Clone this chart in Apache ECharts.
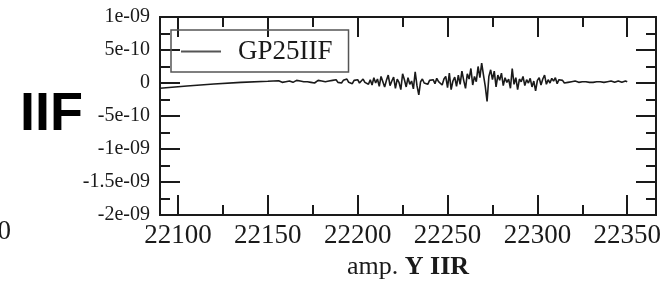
<!DOCTYPE html>
<html>
<head>
<meta charset="utf-8">
<script src="https://cdn.jsdelivr.net/npm/echarts@6/dist/echarts.min.js"></script>
<style>
  html, body { margin: 0; padding: 0; background: #fff; }
  #chart { width: 672px; height: 285px; }
</style>
</head>
<body>
<div id="chart"></div>
<script>
// values are in units of 1e-11
const rampX = [22090, 22105, 22120, 22135, 22150, 22156];
const rampY = [-8, -4.5, -1.5, 1, 2.7, 3.5];

// noisy part, one value per x step starting at noiseStartX
const noiseStartX = 22157;
const noiseY = [
  3, 1, 4, 2, 0, 3, 4, 1, 2, 4,
  1, 3, 0, 2, 4, 2, 5, 1, 3, 0,
  2, 4, 1, 3, 5, 2, 0, 3, 1, 4,
  2, 5, 1, 3, 0, 4, 2, 6, 1, 3,
  -1, 4, 2, 5, 0, 3, 6, 1, 4, -2,
  5, -3, 8, 0, 6, -5, 10, 2, -6, 4,
  12, -4, 3, 9, -8, 6, 1, -10, 14, 5,
  -6, 8, -2, 3, -9, 17,
  -4, -18, 2,
  6, 0, 3, -2, 4, 1, 5, -1, 7, 2,
  4, -3, 6, 10, -7, 15, -10, 3, 9, -5,
  12, -2, 18, 4, -8, 14, 6, 22, -3, 10,
  2, 25, 8, 30, 12, -5, -28, 10, 20, 5,
  18, -6, 12, 4, 15, -4, 8, 1, 6, -8,
  22, -2, 8, -10, 6, 2, 10, -4, 5, 0,
  7, -6, 3, -12, 4, 8, -3, 6, 12, -2,
  5, 0, 7, 3, 8, -1, 5, 2, 4, 0,
  3, 1, 4, 2, 0, 3, 2, 1, 3, 2,
  1, 2, 3, 1, 2, 1, 3, 2, 1, 2,
  3, 1, 2, 2, 1, 3, 2, 1, 2, 3,
  2, 1, 2, 3, 2
];

const xMajorTicks = [22100, 22150, 22200, 22250, 22300, 22350];
const xMinorTicks = [22125, 22175, 22225, 22275, 22325];
const yTickValues = [100, 50, 0, -50, -100, -150, -200];
const yTickLabels = ['1e-09', '5e-10', '0', '-5e-10', '-1e-09', '-1.5e-09', '-2e-09'];

const seriesData = rampX.map((x, i) => [x, rampY[i]]);
noiseY.forEach((v, i) => seriesData.push([noiseStartX + i, v]));

const chart = echarts.init(document.getElementById('chart'), null, { renderer: 'canvas' });

const serif = 'Liberation Serif';
const ink = '#1a1a1a';
const plotBox = { left: 160, top: 17, width: 496, height: 198, containLabel: false };

// grid 0 holds the major ticks + labels, grid 1 (same box) only the minor ticks
function xAxisDef(grid, pos, ticks, len, withLabels) {
  return {
    type: 'value',
    gridIndex: grid,
    position: pos,
    min: 22090,
    max: 22366,
    axisLine: { show: true, onZero: false, lineStyle: { color: ink, width: 2 } },
    axisTick: { show: true, inside: true, length: len, customValues: ticks, lineStyle: { color: ink, width: 2 } },
    axisLabel: {
      show: withLabels,
      customValues: ticks,
      color: ink,
      fontFamily: serif,
      fontSize: 27,
      margin: 7,
      formatter: v => String(v)
    },
    splitLine: { show: false }
  };
}

const bottomAxis = xAxisDef(0, 'bottom', xMajorTicks, 20, true);
bottomAxis.name = '{a|amp. }{b|Y IIR}';
bottomAxis.nameLocation = 'middle';
bottomAxis.nameGap = 36;
bottomAxis.nameTextStyle = {
  rich: {
    a: { fontFamily: serif, fontSize: 26, color: ink },
    b: { fontFamily: serif, fontSize: 26, fontWeight: 'bold', color: ink }
  }
};

function yAxisDef(grid, pos, withLabels, visible) {
  return {
    type: 'value',
    gridIndex: grid,
    position: pos,
    show: visible,
    min: -200,
    max: 100,
    interval: 50,
    axisLine: { show: true, onZero: false, lineStyle: { color: ink, width: 2 } },
    axisTick: { show: true, inside: true, length: 20, lineStyle: { color: ink, width: 2 } },
    minorTick: { show: true, splitNumber: 2, length: 10, lineStyle: { color: ink, width: 2 } },
    axisLabel: {
      show: withLabels,
      showMinLabel: true,
      showMaxLabel: true,
      color: ink,
      fontFamily: serif,
      fontSize: 20,
      margin: 10,
      formatter: v => {
        const k = yTickValues.indexOf(v);
        return k >= 0 ? yTickLabels[k] : '';
      }
    },
    splitLine: { show: false },
    minorSplitLine: { show: false }
  };
}

const option = {
  backgroundColor: '#fff',
  animation: false,
  grid: [plotBox, Object.assign({}, plotBox)],
  legend: {
    left: 171,
    top: 30,
    data: ['GP25IIF'],
    icon: 'rect',
    borderColor: '#555',
    borderWidth: 1.5,
    padding: [8, 16, 7, 10],
    itemWidth: 40,
    itemHeight: 2,
    textStyle: { fontFamily: serif, fontSize: 27, color: ink, padding: [0, 0, 0, 12] }
  },
  xAxis: [
    bottomAxis,
    xAxisDef(0, 'top', xMajorTicks, 20, false),
    xAxisDef(1, 'bottom', xMinorTicks, 10, false),
    xAxisDef(1, 'top', xMinorTicks, 10, false)
  ],
  yAxis: [
    yAxisDef(0, 'left', true, true),
    yAxisDef(0, 'right', false, true),
    yAxisDef(1, 'left', false, false)
  ],
  graphic: [
    {
      type: 'text',
      left: 20,
      top: 88,
      style: { text: 'IIF', font: 'bold 54px "Liberation Sans"', fill: '#000' }
    },
    {
      type: 'text',
      right: 661,
      top: 218,
      style: { text: '0', font: '27px "Liberation Serif"', fill: ink }
    }
  ],
  series: [
    {
      name: 'GP25IIF',
      type: 'line',
      xAxisIndex: 0,
      yAxisIndex: 0,
      data: seriesData,
      showSymbol: false,
      symbol: 'none',
      lineStyle: { color: ink, width: 1.6 },
      itemStyle: { color: '#555' }
    }
  ]
};

chart.setOption(option);
</script>
</body>
</html>
